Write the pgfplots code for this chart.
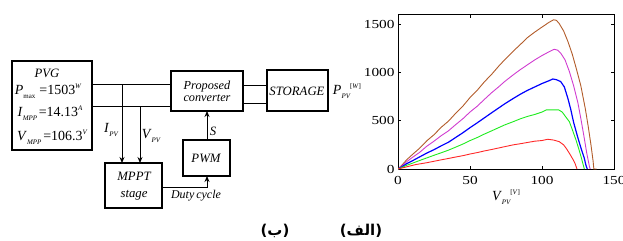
\documentclass[border=0pt]{standalone}
\usepackage{pgfplots}
\pgfplotsset{compat=1.18}
\usepackage{fontspec}
\setmainfont{Liberation Serif}
\newfontfamily\tickfont[FakeStretch=1.25]{Liberation Serif}
\newfontfamily\arabicfont[Script=Arabic]{DejaVu Sans}
\newfontfamily\dejavu{DejaVu Sans}
\TeXXeTstate=1
\usetikzlibrary{arrows.meta}
\definecolor{cbrown}{RGB}{178,92,42}
\definecolor{cmag}{RGB}{208,60,208}
\definecolor{cblue}{RGB}{0,0,255}
\definecolor{cgreen}{RGB}{30,235,30}
\definecolor{cred}{RGB}{255,40,40}
\newcommand\sub[1]{\raisebox{-0.5ex}{\fontsize{7}{8}\selectfont #1}}
\newcommand\sups[1]{\raisebox{1.0ex}{\fontsize{7}{8}\selectfont #1}}
\begin{document}
\begin{tikzpicture}
\useasboundingbox (0,0) rectangle (623bp,-241bp);
\begin{axis}[at={(398bp,-169bp)}, anchor=south west, width=216bp, height=154.5bp,
  scale only axis, xmin=0, xmax=150, ymin=0, ymax=1600,
  xtick={0,50,100,150}, ytick={0,500,1000,1500},
  tick align=inside, major tick length=3bp,
  axis line style={line width=0.9bp},
  every tick/.style={line width=0.8bp, black},
  ticklabel style={font=\tickfont\fontsize{12.3}{14}\selectfont},
  xticklabel style={yshift=-4bp},
  /pgf/number format/assume math mode=true,
  /pgf/number format/set thousands separator={},
  scaled ticks=false]
\addplot[cbrown, line width=0.9bp] coordinates {(0,0) (3,45) (6,95) (10,150) (15,215) (20,292) (25,355) (30,432) (35,495) (40,576) (45,650) (50,740) (55,815) (60,903) (65,980) (70,1066) (74,1130) (80,1220) (85,1290) (90,1362) (95,1418) (100,1470) (105,1520) (108,1545) (110,1540) (112,1505) (115,1430) (118,1320) (121,1190) (124,1030) (127,860) (130,630) (132,450) (134,250) (135.5,80) (136,0) (138,0)};
\addplot[cmag, line width=0.9bp] coordinates {(0,0) (3,35) (6,75) (10,120) (15,172) (20,236) (25,288) (30,345) (35,395) (40,459) (45,520) (50,590) (55,650) (60,721) (65,790) (70,852) (74,905) (80,975) (85,1030) (90,1080) (95,1130) (100,1175) (105,1215) (108.5,1240) (111,1230) (113,1200) (116,1130) (119,1010) (122,860) (125,680) (127,520) (129,350) (131,170) (133,20) (133.5,0)};
\addplot[cblue, line width=1.2bp] coordinates {(0,0) (3,25) (6,55) (10,85) (15,125) (20,165) (25,200) (30,240) (35,277) (40,326) (45,375) (50,428) (55,478) (60,530) (65,582) (70,633) (74,674) (80,730) (85,775) (90,815) (95,850) (100,885) (105,915) (107.5,932) (110,925) (113,905) (115.5,850) (118,730) (120,615) (122,480) (124.7,335) (127,220) (129.4,110) (130.5,40) (131.4,0)};
\addplot[cgreen, line width=0.9bp] coordinates {(0,0) (3,18) (6,38) (10,60) (15,88) (20,115) (25,142) (30,168) (35,195) (40,226) (45,258) (50,294) (55,326) (60,362) (65,395) (70,429) (74,456) (80,490) (85,520) (90,545) (95,565) (100,590) (103,612) (111.6,612) (114,590) (117,530) (119,490) (121,410) (123.6,301) (125.5,210) (127.1,128) (128.5,50) (129.4,0)};
\addplot[cred, line width=0.9bp] coordinates {(0,0) (4,15) (8,30) (12,45) (16,55) (20,65) (25,80) (30,95) (35,109) (40,124) (45,138) (50,155) (55,170) (60,187) (65,202) (70,218) (74,231) (80,250) (85,262) (90,275) (95,288) (100,295) (104,308) (108,300) (112,283) (115,250) (117,210) (119,163) (121.5,100) (123,55) (124.3,0)};
\end{axis}
\begin{scope}[x=1bp,y=-1bp, line width=0.9bp, font=\itshape\fontsize{12.8}{14}\selectfont]
% boxes
\draw[line width=1.1bp] (12,61) rectangle (92,150);
\draw[line width=1.1bp] (171,71) rectangle (243,111);
\draw[line width=1.1bp] (267,70) rectangle (328,111);
\draw[line width=1.1bp] (105,163) rectangle (162,208);
\draw[line width=1.1bp] (183,140) rectangle (230,176);
% lines
\draw (92,84) -- (171,84);
\draw (92,106) -- (171,106);
\draw (243,85) -- (267,85);
\draw (243,103) -- (267,103);
\draw[-{Stealth[length=6bp,width=5bp]}] (122,84) -- (122,163);
\draw[-{Stealth[length=6bp,width=5bp]}] (140,106) -- (140,163);
\draw[-{Stealth[length=6bp,width=5bp]}] (207,140) -- (207,111);
\draw[-{Stealth[length=6bp,width=5bp]}] (162,187) -- (207,187) -- (207,176);
% texts
\node at (47,73) {PVG};
\node[font=\fontsize{14}{15}\selectfont] at (48,91) {\textit{P}\sub{max}\hspace{4bp}=1503\sups{\itshape W}};
\node[font=\fontsize{14}{15}\selectfont] at (50,113) {\textit{I}\sub{\itshape MPP}\hspace{1.5bp}=14.13\sups{\itshape A}};
\node[font=\fontsize{14}{15}\selectfont] at (52,137) {\textit{V}\sub{\itshape MPP}\hspace{2bp}=106.3\sups{\itshape V}};
\node[font=\itshape\fontsize{12.3}{13}\selectfont, align=center] at (207,91) {Proposed\\[-1bp]converter};
\node at (297,91) {STORAGE};
\node at (134,176) {MPPT};
\node at (134,195) {stage};
\node at (206,158) {PWM};
\node at (213,131) {S};
\node[font=\itshape\fontsize{12}{13}\selectfont] at (196,196) {Duty\hspace{-1bp} cycle};
\node[font=\fontsize{14}{15}\selectfont] at (111,130) {\textit{I}\sub{\itshape PV}};
\node[font=\fontsize{14}{15}\selectfont] at (151,136) {\textit{V}\sub{\itshape PV}};
\node[font=\fontsize{14}{15}\selectfont] at (347,91) {\textit{P}\sub{\itshape PV}\sups{[\textit{W}]}};
\node[font=\fontsize{14}{15}\selectfont] at (506,197) {\textit{V}\sub{\itshape PV}\sups{[\textit{V}]}};
\node[font=\dejavu\bfseries\fontsize{15}{17}\selectfont] at (361,231) {(\arabicfont\beginR الف\endR\dejavu)};
\node[font=\dejavu\bfseries\fontsize{15}{17}\selectfont] at (275,231) {(\arabicfont\beginR ب\endR\dejavu)};
\end{scope}
\end{tikzpicture}
\end{document}
